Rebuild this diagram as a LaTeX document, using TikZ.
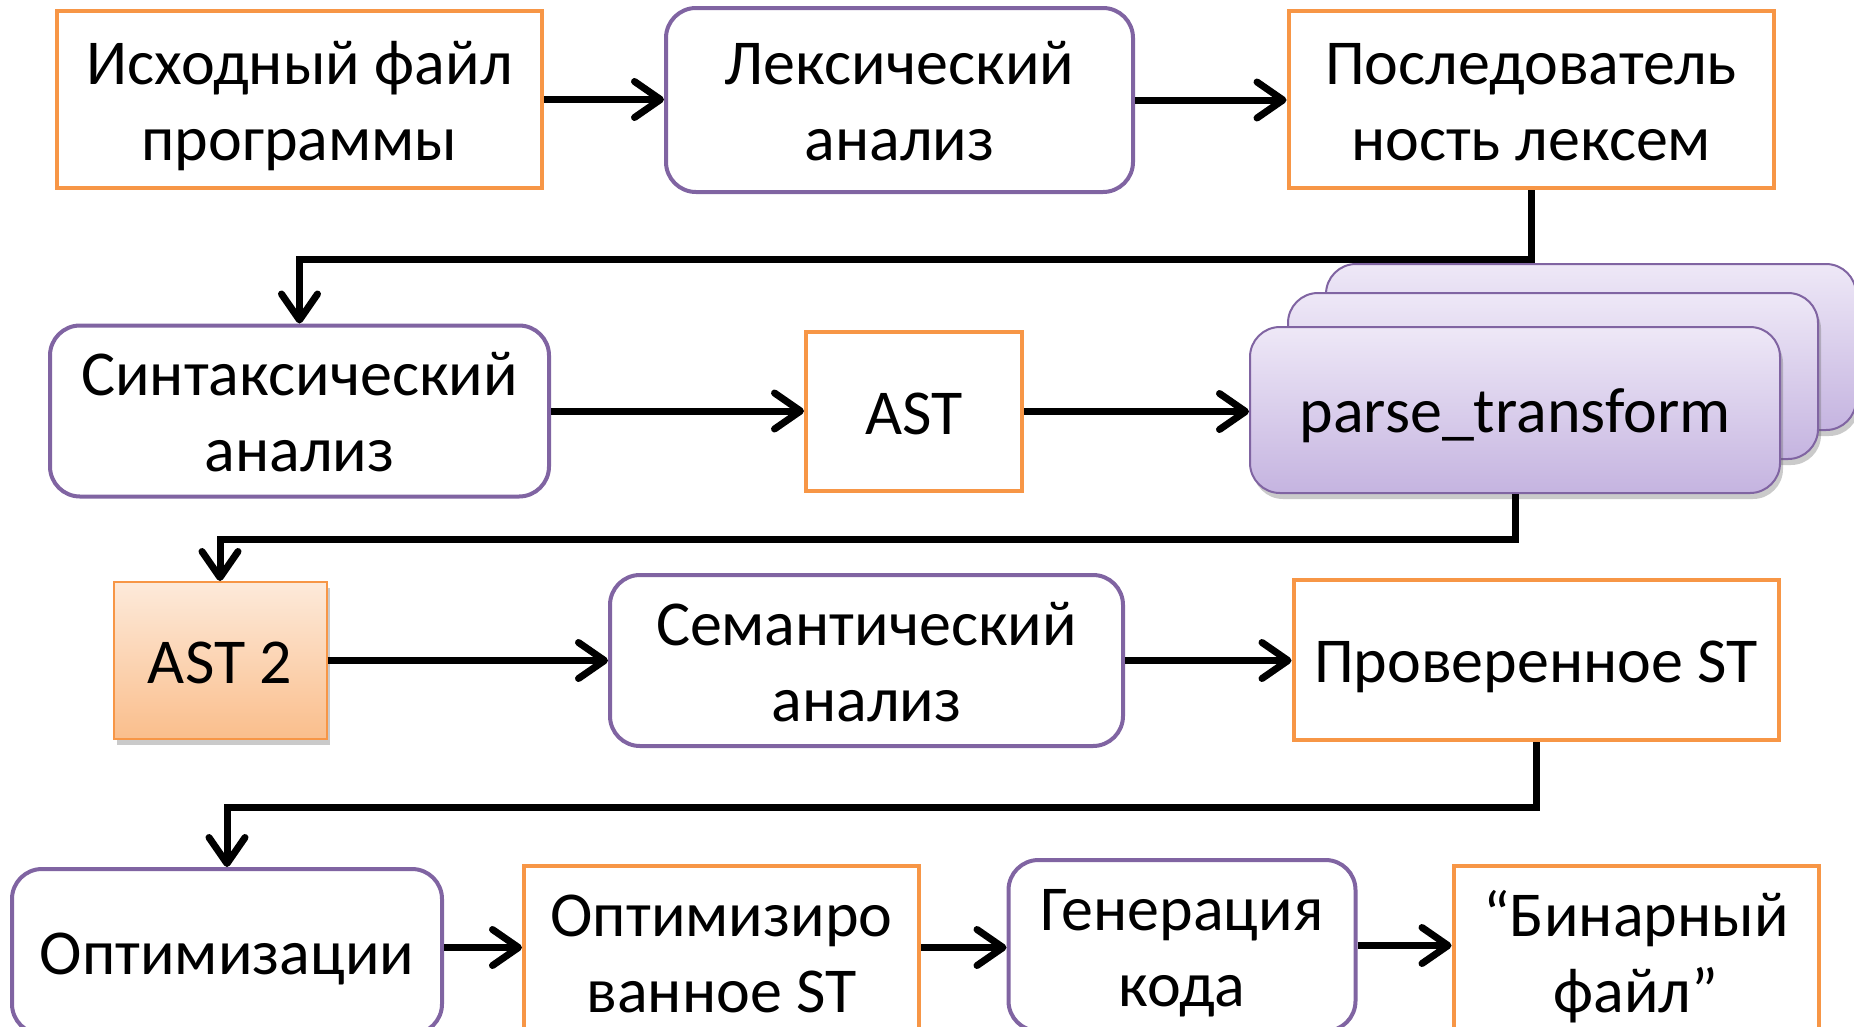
\documentclass[tikz,border=0pt]{standalone}
\usepackage{fontspec}
\setmainfont{Carlito}
\usetikzlibrary{arrows.meta,shadows}
\definecolor{orng}{RGB}{247,150,70}
\definecolor{purp}{RGB}{128,100,162}
\definecolor{ptop}{RGB}{238,232,247}
\definecolor{pbot}{RGB}{197,180,224}
\definecolor{otop}{RGB}{253,234,218}
\definecolor{obot}{RGB}{250,190,140}
\newcommand\tstr{\rule{0pt}{70pt}}
\newcommand\bstr{\rule[-25pt]{0pt}{0pt}}
\begin{document}
\begin{tikzpicture}[x=1pt,y=-1pt,
  base/.style={font=\fontsize{64}{76}\selectfont, align=center, inner sep=0pt, text=black},
  obox/.style={base, draw=orng, line width=4pt, fill=white},
  pbox/.style={base, draw=purp, line width=4pt, rounded corners=30pt, fill=white},
  ptbox/.style={base, draw=purp, line width=2pt, rounded corners=30pt, top color=ptop, bottom color=pbot,
     minimum width=530pt, minimum height=166pt,
     drop shadow={shadow xshift=3pt, shadow yshift=-6pt, opacity=.35, fill=black!60}},
  conn/.style={line width=7pt, line join=miter, -{Straight Barb[length=26pt,width=36pt,round]}}
]
\useasboundingbox (0,0) rectangle (1854,1026);

% Row 1
\node[obox, minimum width=485pt, minimum height=177pt] (A) at (299.5,99.5) {\tstr Исходный файл\\программы\bstr};
\node[pbox, minimum width=467pt, minimum height=184pt] (B) at (899.5,100) {\tstr Лексический\\анализ\bstr};
\node[obox, minimum width=485pt, minimum height=177pt] (C) at (1531,99.5) {\tstr Последователь\\ность лексем\bstr};

% Row 2
\node[pbox, minimum width=499pt, minimum height=167pt] (D) at (299.5,411) {\tstr Синтаксический\\анализ\bstr};
\node[obox, minimum width=216pt, minimum height=159pt] (E) at (914,411.5) {\tstr AST\bstr};
\node[ptbox] (F3) at (1591,347) {};
\node[ptbox] (F2) at (1553,376) {};
\node[ptbox] (F) at (1515,410) {\tstr parse\_transform\bstr};

% Row 3
\node[base, draw=orng, line width=2pt, top color=otop, bottom color=obot,
      minimum width=213pt, minimum height=157pt,
      drop shadow={shadow xshift=3pt, shadow yshift=-6pt, opacity=.35, fill=black!60}] (G) at (220,660.5) {\tstr AST 2\bstr};
\node[pbox, minimum width=513pt, minimum height=167pt] (H) at (866.5,660.5) {\tstr Семантический\\анализ\bstr};
\node[obox, minimum width=485pt, minimum height=160pt] (I) at (1536,660) {\tstr Проверенное ST\bstr};

% Row 4
\node[pbox, minimum width=430pt, minimum height=165pt] (J) at (227,951.5) {\tstr Оптимизации\bstr};
\node[obox, minimum width=395pt, minimum height=165pt] (K) at (721.5,951.5) {\tstr Оптимизиро\\ванное ST\bstr};
\node[pbox, minimum width=347pt, minimum height=165pt] (L) at (1182,945.5) {\tstr Генерация\\кода\bstr};
\node[obox, minimum width=365pt, minimum height=165pt] (M) at (1636,951.5) {\tstr “Бинарный\\файл”\bstr};

% Connectors
\draw[conn] (A.east) -- (A.east -| B.west);
\draw[conn] (B.east) -- (B.east -| C.west);
\draw[conn] (C.south) -- ++(0,69) -| (D.north);
\draw[conn] (D.east) -- (D.east -| E.west);
\draw[conn] (E.east) -- (E.east -| F.west);
\draw[conn] (F.south) -- ++(0,45) -| (G.north);
\draw[conn] (G.east) -- (G.east -| H.west);
\draw[conn] (H.east) -- (H.east -| I.west);
\draw[conn] (I.south) -- ++(0,65) -| (J.north);
\draw[conn] ([yshift=4pt]J.east) -- ([yshift=4pt]J.east -| K.west);
\draw[conn] ([yshift=4pt]K.east) -- ([yshift=4pt]K.east -| L.west);
\draw[conn] (L.east) -- (L.east -| M.west);
\end{tikzpicture}
\end{document}
